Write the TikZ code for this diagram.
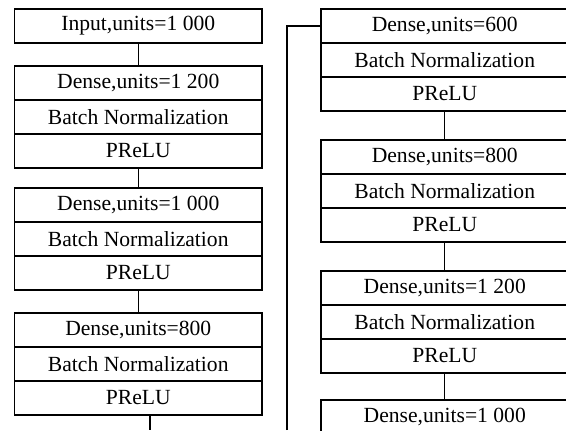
\documentclass[tikz,border=0pt]{standalone}
\usepackage{fontspec}
\setmainfont{Liberation Serif}
\usetikzlibrary{positioning}

\begin{document}
\begin{tikzpicture}[
    x=1pt, y=1pt,
    node distance=0pt,
    layer/.style={rectangle, draw, line width=0.7pt, outer sep=0pt, inner sep=0pt, minimum width=123.75pt, minimum height=17pt, font=\fontsize{10.8}{12}\selectfont},
    link/.style={line width=0.7pt}
]
\clip (0,0) rectangle (283,-215);

% Left column
\node[layer, anchor=north west] (in0) at (7.25,-4.5) {Input,units=1 000};
\node[layer, below=11.5pt of in0] (den1) {Dense,units=1 200};
\node[layer, below=of den1] (bn1) {Batch Normalization};
\node[layer, below=of bn1] (act1) {PReLU};
\node[layer, below=10pt of act1] (den2) {Dense,units=1 000};
\node[layer, below=of den2] (bn2) {Batch Normalization};
\node[layer, below=of bn2] (act2) {PReLU};
\node[layer, below=11.5pt of act2] (den3) {Dense,units=800};
\node[layer, below=of den3] (bn3) {Batch Normalization};
\node[layer, below=of bn3] (act3) {PReLU};

% Right column
\node[layer, anchor=north west] (den4) at (160.5,-4.5) {Dense,units=600};
\node[layer, below=of den4] (bn4) {Batch Normalization};
\node[layer, below=of bn4] (act4) {PReLU};
\node[layer, below=14.5pt of act4] (den5) {Dense,units=800};
\node[layer, below=of den5] (bn5) {Batch Normalization};
\node[layer, below=of bn5] (act5) {PReLU};
\node[layer, below=14.5pt of act5] (den6) {Dense,units=1 200};
\node[layer, below=of den6] (bn6) {Batch Normalization};
\node[layer, below=of bn6] (act6) {PReLU};
\node[layer, below=13.5pt of act6] (den7) {Dense,units=1 000};

% Free ends at the lower edge
\coordinate (outL) at (75,-215);
\coordinate (outR) at (143.5,-215);

% Links
\draw[link] (in0) -- (den1);
\draw[link] (act1) -- (den2);
\draw[link] (act2) -- (den3);
\draw[link] (act3.south -| outL) -- (outL);
\draw[link] (outR) |- (den4.west);
\draw[link] (act4) -- (den5);
\draw[link] (act5) -- (den6);
\draw[link] (act6) -- (den7);

\end{tikzpicture}
\end{document}
